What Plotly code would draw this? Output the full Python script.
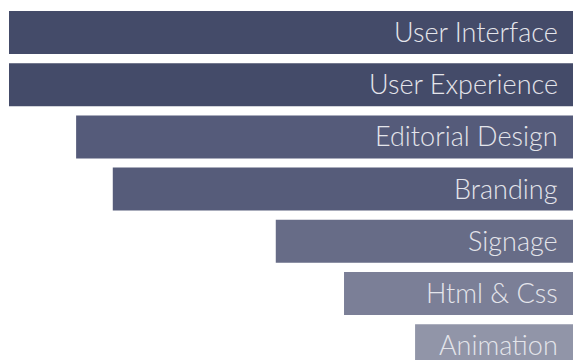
import plotly.graph_objects as go

# Skill levels (percent), listed top to bottom
skills = ["User Interface", "User Experience", "Editorial Design", "Branding",
          "Signage", "Html & Css", "Animation"]
levels = [100, 100, 88.1, 81.6, 52.7, 40.6, 28]
colors = ["#444b69", "#444b69", "#555b7a", "#565c7a", "#676c87", "#7b7f97", "#9195a8"]

rows = list(range(len(skills)))

fig = go.Figure(
    go.Bar(
        x=levels,
        y=rows,
        orientation="h",
        width=0.824,
        marker=dict(color=colors, line=dict(width=0)),
        hoverinfo="skip",
    )
)

# Skill names sit inside each bar, right-aligned near its base
for r, name in zip(rows, skills):
    fig.add_annotation(
        x=0, y=r, xref="x", yref="y",
        text=name, showarrow=False,
        xanchor="right", yanchor="middle", xshift=-13, yshift=1,
        font=dict(family="Lato Light, Lato", size=27, color="#e4e5eb", weight=300),
    )

fig.update_layout(
    width=573, height=360,
    margin=dict(l=9, r=0, t=0, b=0),
    paper_bgcolor="white", plot_bgcolor="white",
    showlegend=False,
    xaxis=dict(range=[100, 0], visible=False, fixedrange=True),
    yaxis=dict(range=[6.274, -0.623], visible=False, fixedrange=True),
)

fig.write_html("out.html", config={"displayModeBar": False})
